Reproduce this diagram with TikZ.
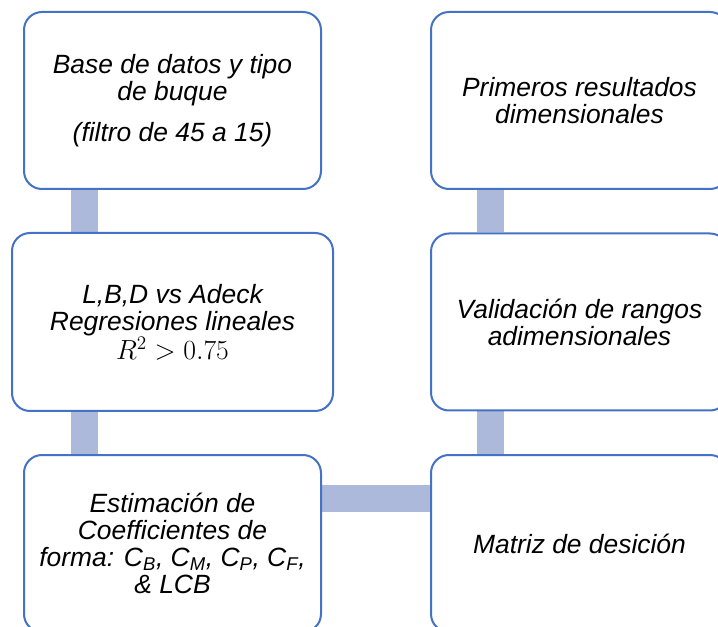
\documentclass[tikz,border=0pt]{standalone}
\usepackage{fontspec}
\setmainfont{Liberation Sans}
\usetikzlibrary{backgrounds}
\definecolor{azulcaja}{RGB}{68,114,196}
\definecolor{azulbarra}{RGB}{173,185,219}
\newcommand{\tx}{\fontsize{19.8}{20.3}\selectfont\itshape}
\newcommand{\sub}[1]{\textsubscript{#1}}

\begin{document}
\begin{tikzpicture}[x=0.75pt,y=-0.75pt,
   paso/.style={draw=azulcaja,line width=1.5pt,rounded corners=13.5pt,fill=white,
      minimum width=222.75pt,minimum height=132.75pt,align=center,font=\tx,inner sep=0pt},
   ancho/.style={minimum width=240.75pt,minimum height=133.5pt},
   barra/.style={azulbarra,line width=20.25pt}]
   \useasboundingbox (0,0) rectangle (718,627);
   \clip (0,0) rectangle (718,627);
   \node[paso]       (base) at (172.5,100.5) {Base de datos y tipo\\de buque\\[10pt](filtro de 45 a 15)};
   \node[paso,ancho] (regr) at (172.5,322.0) {L,B,D vs Adeck\\Regresiones lineales\\$R^2>0.75$};
   \node[paso]       (coef) at (172.5,543.5) {Estimación de\\Coefficientes de\\forma: C\sub{B}, C\sub{M}, C\sub{P}, C\sub{F},\\\& LCB};
   \node[paso]       (matr) at (579.5,543.5) {Matriz de desición};
   \node[paso]       (vali) at (579.5,322.0) {Validación de rangos\\adimensionales};
   \node[paso]       (prim) at (579.5,100.5) {Primeros resultados\\dimensionales};
   \begin{pgfonlayer}{background}
      \draw[barra] ([xshift=46.1pt]base.south west) -- ([xshift=46.1pt]base.south west |- regr.north);
      \draw[barra] ([xshift=46.1pt]coef.north west) -- ([xshift=46.1pt]coef.north west |- regr.south);
      \draw[barra] ([yshift=-33.4pt]coef.north east) -- ([yshift=-33.4pt]coef.north east -| matr.west);
      \draw[barra] ([xshift=45.4pt]matr.north west) -- ([xshift=45.4pt]matr.north west |- vali.south);
      \draw[barra] ([xshift=45.4pt]prim.south west) -- ([xshift=45.4pt]prim.south west |- vali.north);
   \end{pgfonlayer}
\end{tikzpicture}
\end{document}
